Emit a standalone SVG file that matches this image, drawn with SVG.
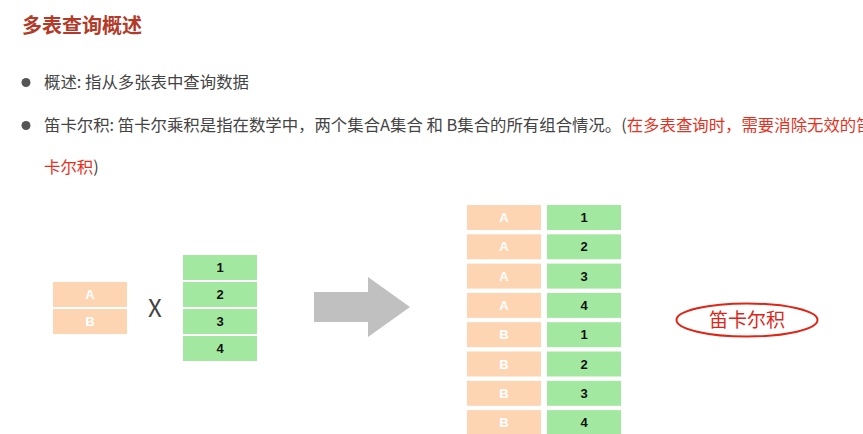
<svg xmlns="http://www.w3.org/2000/svg" width="863" height="434" viewBox="0 0 863 434">
<style>
.t{font-family:"Noto Sans CJK SC","Liberation Sans",sans-serif}
.body{font-size:16.4px;fill:#444}
.red{fill:#e5321f}
.pc{fill:#fdd5b3}
.gc{fill:#a3e8a0}
.pl{font-family:"Liberation Sans","Noto Sans CJK SC",sans-serif;font-weight:bold;font-size:13px;fill:#fff;text-anchor:middle}
.gl{font-family:"Liberation Sans","Noto Sans CJK SC",sans-serif;font-weight:bold;font-size:13px;fill:#111;text-anchor:middle}
</style>
<rect width="863" height="434" fill="#fff"/>
<text class="t" x="22" y="33" font-size="20" font-weight="bold" fill="#b33a28">多表查询概述</text>
<circle cx="26" cy="82.5" r="4.5" fill="#555"/>
<text class="t body" x="44" y="88">概述: 指从多张表中查询数据</text>
<circle cx="26" cy="125.5" r="4.5" fill="#555"/>
<text class="t body" x="44" y="131">笛卡尔积: 笛卡尔乘积是指在数学中，两个集合A集合 和 B集合的所有组合情况。(<tspan class="red">在多表查询时，需要消除无效的笛</tspan></text>
<text class="t body" x="44" y="173"><tspan class="red">卡尔积</tspan>)</text>

<g id="tableA">
<rect class="pc" x="53" y="282" width="74" height="25"/>
<text class="pl" x="90" y="299">A</text>
<rect class="pc" x="53" y="309" width="74" height="25"/>
<text class="pl" x="90" y="326">B</text>
</g>
<text class="t" x="155" y="316.5" font-size="24" fill="#444" text-anchor="middle">X</text>
<g id="table1">
<rect class="gc" x="183" y="255" width="74" height="25"/>
<text class="gl" x="220" y="272">1</text>
<rect class="gc" x="183" y="282" width="74" height="25"/>
<text class="gl" x="220" y="299">2</text>
<rect class="gc" x="183" y="309" width="74" height="25"/>
<text class="gl" x="220" y="326">3</text>
<rect class="gc" x="183" y="336" width="74" height="25"/>
<text class="gl" x="220" y="353">4</text>
</g>
<g id="connectors">
<polygon points="314,292 368,292 368,277 410,307 368,337 368,322 314,322" fill="#c0c0c0"/>
</g>
<g id="result">
<rect class="pc" x="467" y="205" width="74" height="25"/><text class="pl" x="504" y="222">A</text>
<rect class="gc" x="547" y="205" width="74" height="25"/><text class="gl" x="584" y="222">1</text>
<rect class="pc" x="467" y="234.3" width="74" height="25"/><text class="pl" x="504" y="251.3">A</text>
<rect class="gc" x="547" y="234.3" width="74" height="25"/><text class="gl" x="584" y="251.3">2</text>
<rect class="pc" x="467" y="263.6" width="74" height="25"/><text class="pl" x="504" y="280.6">A</text>
<rect class="gc" x="547" y="263.6" width="74" height="25"/><text class="gl" x="584" y="280.6">3</text>
<rect class="pc" x="467" y="292.9" width="74" height="25"/><text class="pl" x="504" y="309.9">A</text>
<rect class="gc" x="547" y="292.9" width="74" height="25"/><text class="gl" x="584" y="309.9">4</text>
<rect class="pc" x="467" y="322.2" width="74" height="25"/><text class="pl" x="504" y="339.2">B</text>
<rect class="gc" x="547" y="322.2" width="74" height="25"/><text class="gl" x="584" y="339.2">1</text>
<rect class="pc" x="467" y="351.5" width="74" height="25"/><text class="pl" x="504" y="368.5">B</text>
<rect class="gc" x="547" y="351.5" width="74" height="25"/><text class="gl" x="584" y="368.5">2</text>
<rect class="pc" x="467" y="380.8" width="74" height="25"/><text class="pl" x="504" y="397.8">B</text>
<rect class="gc" x="547" y="380.8" width="74" height="25"/><text class="gl" x="584" y="397.8">3</text>
<rect class="pc" x="467" y="410.1" width="74" height="25"/><text class="pl" x="504" y="427.1">B</text>
<rect class="gc" x="547" y="410.1" width="74" height="25"/><text class="gl" x="584" y="427.1">4</text>
</g>
<g id="label">
<ellipse cx="747" cy="320" rx="70.5" ry="16.5" fill="none" stroke="#e02415" stroke-width="2"/>
<text class="t" x="747" y="327" font-size="19" fill="#d9281a" text-anchor="middle">笛卡尔积</text>
</g>
</svg>
